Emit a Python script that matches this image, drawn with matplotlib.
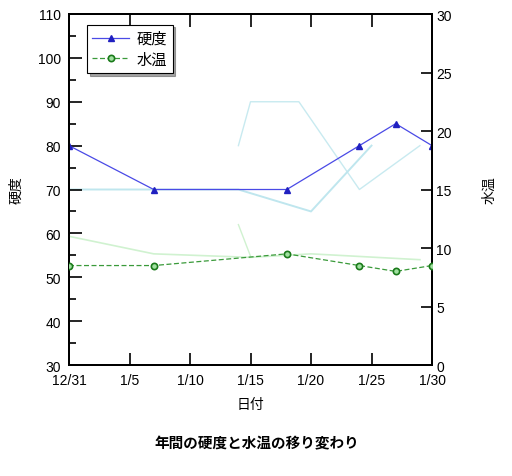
import matplotlib
matplotlib.use("Agg")
from matplotlib import pyplot as plt
from matplotlib.ticker import FuncFormatter, MultipleLocator
import pandas as pd

plt.rcParams['font.family'] = ['Liberation Sans', 'Noto Sans CJK JP', 'DejaVu Sans']
JP = ['Noto Sans CJK JP', 'DejaVu Sans']

# main series
dates = pd.to_datetime(["2007-12-31", "2008-01-07", "2008-01-18",
                        "2008-01-24", "2008-01-27", "2008-01-30"])
hardness = [80, 70, 70, 80, 85, 80]
water_temp = [8.5, 8.5, 9.5, 8.5, 8.0, 8.5]

# faint leftover lines visible in the picture
ghost_a_dates = pd.to_datetime(["2008-01-14", "2008-01-15", "2008-01-19", "2008-01-24", "2008-01-29"])
ghost_a_vals = [80, 90, 90, 70, 80]
ghost_b_dates = pd.to_datetime(["2007-12-31", "2008-01-14", "2008-01-20", "2008-01-25"])
ghost_b_vals = [70, 70, 65, 80]
ghost_c_dates = pd.to_datetime(["2007-12-31", "2008-01-07", "2008-01-15", "2008-01-20", "2008-01-29"])
ghost_c_vals = [11.0, 9.5, 9.2, 9.5, 9.0]
ghost_d_dates = pd.to_datetime(["2008-01-14", "2008-01-15"])
ghost_d_vals = [12.0, 9.3]

start = pd.Timestamp("2007-12-31")
tick_dates = pd.date_range(start, periods=7, freq="5D")

fig = plt.figure(figsize=(5.12, 4.77), dpi=100)
ax = fig.add_axes([69 / 512, 1 - 366 / 477, 363 / 512, 351 / 477])
ax2 = ax.twinx()

def days(d):
    return [(x - start).days for x in d]

ax.plot(days(ghost_a_dates), ghost_a_vals, color="#c8eaf0", lw=1.0, zorder=1)
ax.plot(days(ghost_b_dates), ghost_b_vals, color="#bfe6ee", lw=1.4, zorder=1)
ax2.plot(days(ghost_c_dates), ghost_c_vals, color="#d0f2d0", lw=1.2, zorder=1)
ax2.plot(days(ghost_d_dates), ghost_d_vals, color="#d0f2d0", lw=1.0, zorder=1)

l1, = ax.plot(days(dates), hardness, color="#4a4ae6", lw=0.9, marker="^",
              markersize=5, markerfacecolor="#2020c0", markeredgecolor="#2020c0",
              label="硬度", zorder=3)
l2, = ax2.plot(days(dates), water_temp, color="#3a9a3a", lw=0.9, ls=(0, (4, 2)),
               marker="o", markersize=4.5, markerfacecolor="#a0e0a0",
               markeredgecolor="#1a7a1a", markeredgewidth=1.2,
               label="水温", zorder=3)

ax.set_xlim(0, 30)
ax.set_ylim(30, 110)
ax2.set_ylim(0, 30)

ax.set_xticks(days(tick_dates))
ax.xaxis.set_major_formatter(FuncFormatter(
    lambda v, p: f"{(start + pd.Timedelta(days=v)).month}/{(start + pd.Timedelta(days=v)).day}"))
ax.yaxis.set_major_locator(MultipleLocator(10))
ax.yaxis.set_minor_locator(MultipleLocator(5))
ax2.yaxis.set_major_locator(MultipleLocator(5))

ax.tick_params(axis="x", which="major", direction="in", length=9, width=1.2,
               top=True, labelsize=10, pad=6)
ax.tick_params(axis="y", which="major", direction="in", length=9, width=1.2,
               labelsize=10, right=False, pad=6)
ax.tick_params(axis="y", which="minor", direction="in", length=5, width=1.2, right=False)
ax2.tick_params(axis="y", which="major", direction="in", length=8, width=1.2,
                labelsize=10, pad=3)
for a in (ax, ax2):
    for s in a.spines.values():
        s.set_linewidth(1.4)

ax.set_ylabel("硬度", fontsize=10, labelpad=10, family=JP)
ax2.set_ylabel("水温", fontsize=10, rotation=90, labelpad=22, family=JP)

fig.text(250 / 512, 1 - 405 / 477, "日付", ha="center", va="center",
         fontsize=10, family=JP)
fig.text(257 / 512, 1 - 443 / 477, "年間の硬度と水温の移り変わり", ha="center",
         va="center", fontsize=10.5, fontweight="bold", family=JP)

leg = ax2.legend([l1, l2], ["硬度", "水温"], loc="upper left",
                 bbox_to_anchor=(0.05, 0.97), borderaxespad=0, fancybox=False,
                 shadow=True, framealpha=1, edgecolor="black",
                 prop={"size": 11, "style": "italic", "family": JP},
                 handlelength=2.4, handletextpad=0.5, borderpad=0.35,
                 labelspacing=0.25)
leg.get_frame().set_linewidth(0.8)

fig.savefig("out.png", dpi=100)
